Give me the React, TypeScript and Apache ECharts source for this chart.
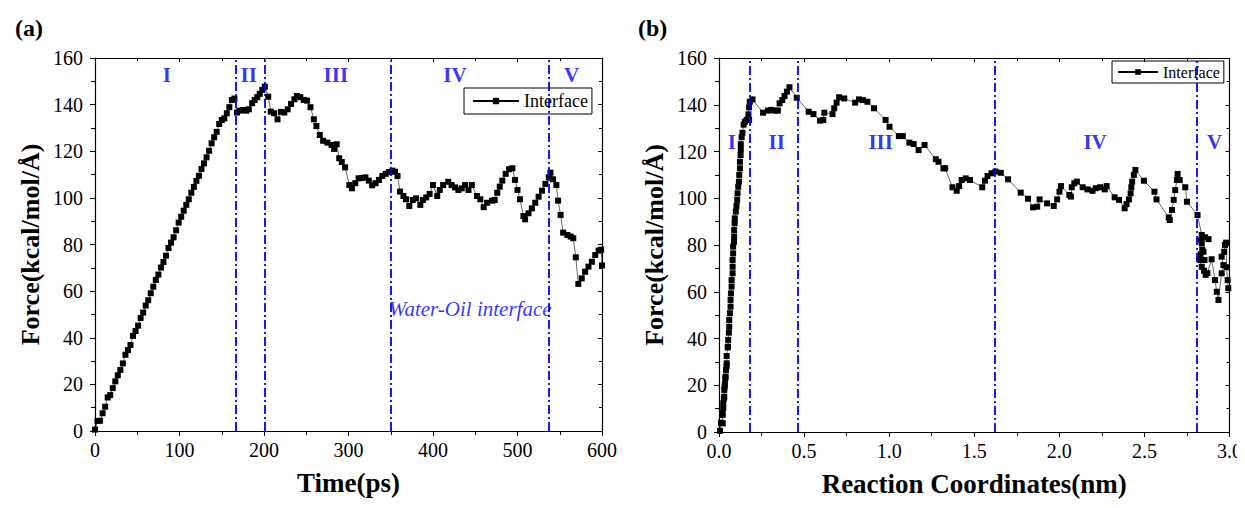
import React, { useEffect, useRef } from "react";
import * as echarts from "echarts";

// Panel (a): Force vs Time
const timeA = [0, 3, 6, 9, 12, 15, 18, 21, 24, 27, 30, 33, 36, 39, 42, 45, 48, 51, 54, 57, 60, 63, 66, 69, 72, 75, 78, 81, 84, 87, 90, 93, 96, 99, 102, 105, 108, 111, 114, 117, 120, 123, 126, 129, 132, 135, 138, 141, 144, 147, 150, 153, 156, 159, 162, 165,
  168, 171, 175, 179, 182, 186, 189, 192, 195, 198, 201,
  205, 208, 212, 216, 220, 224, 228, 232, 236, 239, 243, 247, 251, 255, 259, 262, 266, 270, 275, 280, 283, 286, 289, 292, 296, 301, 304, 308, 312, 316, 320, 324, 328, 332, 336, 340, 344, 348, 352,
  355, 358, 361, 365, 368, 372, 376, 380, 385, 388, 392, 396, 400, 405, 408, 412, 418, 422, 426, 430, 434, 438, 442, 446, 452, 456, 460, 464, 470, 473, 476, 479, 482, 486, 490, 494, 497, 500, 503, 507, 509, 513, 517, 521, 525, 529, 533, 537, 539,
  542, 546, 548, 551, 554, 559, 563, 566, 569, 572, 576, 580, 584, 588, 592, 596, 599, 600];
const forceA = [0.6, 4.3, 4.4, 7.6, 10.4, 14.4, 15.4, 18.4, 21.3, 23.9, 26.2, 29, 32.7, 34.7, 36.9, 40.8, 42.9, 45.2, 48.5, 50.8, 53.8, 56.1, 59.1, 61.9, 64.8, 67.1, 70.1, 72.5, 75.2, 78.5, 80.8, 83.1, 86.1, 89.4, 91.9, 94.5, 97, 99.4, 102.2, 104.7, 107.3, 109.5, 112.4, 114.8, 117.4, 120.2, 123.4, 126, 128.3, 131.7, 133.4, 134.1, 136.3, 138.9, 142, 142.6,
  136.6, 137.4, 137.7, 137.4, 138, 140.6, 142, 143.2, 144.6, 146.3, 147.7,
  143.4, 137, 136.3, 133.7, 136.9, 136.6, 138, 140.3, 142.3, 143.7, 143.2, 142, 141.7, 138.9, 133.7, 130.8, 127, 124.5, 123.7, 122.7, 121, 123, 117, 115.4, 113.1, 105.5, 104.1, 106.3, 108.4, 108.5, 108.8, 107.4, 105.4, 106.3, 107.7, 109.4, 110.3, 111.1, 111.7,
  111.2, 109.4, 102.7, 100.8, 99.4, 96.5, 99.1, 99.8, 97, 99.1, 100.2, 101.7, 105.5, 100.8, 103.4, 105.5, 106.9, 105.5, 104.5, 103.4, 104.1, 105.5, 103.4, 105.5, 100.8, 99.4, 96, 97.9, 98.8, 99.1, 102.2, 104.8, 107.4, 110.3, 112.3, 112.7, 107.7, 103.4, 99.4, 92.2, 90.8, 93.4, 95.5, 97.9, 100.5, 103.1, 106, 108.8, 110.8,
  108, 105.5, 98.8, 92.7, 85.1, 84.1, 83.4, 82.7, 74.5, 63.1, 65.5, 68.3, 70.5, 72.6, 75.5, 77.4, 77.8, 71];

// Panel (b): Force vs Reaction Coordinates
const coordB = [0.006, 0.012, 0.022, 0.019, 0.022, 0.025, 0.025, 0.029, 0.031, 0.031, 0.033, 0.035, 0.037, 0.039, 0.041, 0.045, 0.045, 0.045, 0.051, 0.053, 0.054, 0.058, 0.06, 0.06, 0.064, 0.068, 0.068, 0.07, 0.074, 0.074, 0.08, 0.08, 0.08, 0.083, 0.083, 0.088, 0.089, 0.089, 0.092, 0.093, 0.099, 0.103, 0.107, 0.109, 0.113, 0.117, 0.119, 0.123, 0.123, 0.127, 0.128, 0.128, 0.133, 0.138, 0.145, 0.152, 0.162, 0.177, 0.173, 0.177, 0.181, 0.197,
  0.259, 0.288, 0.307, 0.327, 0.346, 0.356, 0.372, 0.385, 0.399, 0.414,
  0.457, 0.527, 0.555, 0.594, 0.613, 0.619, 0.667, 0.677, 0.691, 0.706, 0.736, 0.8, 0.823, 0.846, 0.872, 0.911, 0.979, 1.002, 1.057, 1.08, 1.119, 1.144, 1.173, 1.208, 1.274, 1.29, 1.319, 1.329, 1.372, 1.397, 1.411, 1.426, 1.45, 1.475, 1.547, 1.563, 1.578, 1.601, 1.625, 1.656, 1.699,
  1.773, 1.816, 1.845, 1.87, 1.884, 1.928, 1.967, 1.987, 2.001, 2.01, 2.059, 2.068, 2.073, 2.088, 2.103, 2.137, 2.166, 2.195, 2.214, 2.24, 2.267, 2.278, 2.325, 2.351, 2.384, 2.395, 2.409, 2.419, 2.423, 2.428, 2.438, 2.447, 2.497, 2.559, 2.571, 2.643, 2.649, 2.662, 2.672, 2.681, 2.691, 2.695, 2.707, 2.74, 2.75, 2.812,
  2.837, 2.857, 2.877, 2.83, 2.837, 2.84, 2.847, 2.83, 2.853, 2.827, 2.837, 2.85, 2.86, 2.87, 2.895, 2.915, 2.925, 2.935, 2.954, 2.964, 2.954, 2.969, 2.973, 2.98, 2.983, 2.989, 2.993];
const forceB = [0.5, 4, 3.7, 8.3, 7.3, 10.1, 12.3, 14.4, 15.1, 18, 19.4, 20.5, 23, 23.7, 26.5, 28.2, 29.4, 32.5, 36.2, 36.5, 39.4, 42.5, 45, 47.9, 50.8, 53.6, 56.5, 59.3, 62.2, 65, 67.9, 70.7, 73.6, 76.4, 79.3, 81.4, 83.6, 86.4, 89.3, 91.4, 94.3, 96.7, 99.3, 102.1, 104.9, 107.1, 110, 112.8, 115.6, 118.5, 120.9, 123.1, 126.1, 128, 131.5, 132.7, 133.5, 133.5, 135.9, 138.9, 141.3, 142.3,
  136.6, 137.5, 137.8, 137.5, 137.5, 140.6, 142, 143.7, 145.6, 147.5,
  143, 137, 136, 133.2, 133.5, 136.6, 136, 138.5, 140.9, 143.2, 142.7, 140.9, 142.3, 142, 141.3, 138.5, 133.5, 130.6, 126.6, 126.6, 123.8, 123.2, 120.6, 122.8, 116.7, 115.6, 112.8, 112.8, 104.7, 103.2, 105.2, 107.8, 108.5, 107.8, 104.7, 107.5, 109.5, 110.7, 111.4, 110.9, 108.1,
  102.4, 99.8, 96.1, 96.4, 99.5, 97.8, 96.7, 99.5, 102.8, 105.2, 101.4, 100.7, 104.7, 106.4, 107.1, 104.7, 103.8, 103.2, 104.3, 104.7, 103.8, 105.2, 100.4, 99.3, 95.7, 97.5, 99.5, 102.1, 104.7, 107.1, 110, 112.1, 107.5, 102.8, 99.5, 91.8, 90.7, 95, 99.3, 103.5, 107.8, 110.4, 107.8, 104.7, 98.5, 92.8,
  84.3, 83.3, 82.5, 82, 80.7, 78, 77.1, 76, 73.6, 73.6, 70.7, 69, 67.2, 68, 73.9, 65, 60, 56.5, 67.9, 71.4, 75, 77.1, 80, 81, 70.5, 65, 61.5];

const regionNames = ["I", "II", "III", "IV", "V"];
const regionPosA = [85, 182, 285, 426, 564];
const regionPosB = [0.076, 0.339, 0.95, 2.21, 2.913];
const boundariesA = [167, 201, 350, 537];
const boundariesB = [0.181, 0.461, 1.623, 2.807];

const SERIF = "'Liberation Serif', 'Times New Roman', serif";
const BLUE = "#0000ff";

function axisCommon() {
  return {
    axisLine: { show: true, onZero: false, lineStyle: { color: "#000", width: 1.2 } },
    splitLine: { show: false },
  };
}

export default function App() {
  const ref = useRef<HTMLDivElement>(null);
  useEffect(() => {
    if (!ref.current) return;
    const chart = echarts.init(ref.current, undefined, { renderer: "svg" });
    const dataA = timeA.map((t, i) => [t, forceA[i]]);
    const dataB = coordB.map((c, i) => [c, forceB[i]]);
    const yLabelA = regionPosA.map((x, i) => [x, 152.7, regionNames[i]]);
    const yLabelB = regionPosB.map((x, i) => [x, 124, regionNames[i]]);

    const tickLabel = { color: "#000", fontSize: 20, fontFamily: SERIF };
    const nameStyle = { color: "#000", fontSize: 26, fontWeight: "bold", fontFamily: SERIF };

    const mkBottom = (gridIndex: number, max: number, interval: number, name: string, fmt?: (v: number) => string) => ({
      type: "value", gridIndex, min: 0, max, interval, position: "bottom",
      name, nameLocation: "middle", nameGap: 38, nameTextStyle: { ...nameStyle, fontSize: 27 },
      ...axisCommon(),
      axisTick: { show: true, inside: false, length: 5, lineStyle: { color: "#000", width: 1 } },
      minorTick: { show: true, splitNumber: 2, length: 4, lineStyle: { color: "#000", width: 1 } },
      axisLabel: { ...tickLabel, margin: 9, formatter: fmt },
    });
    const mkTop = (gridIndex: number, max: number, interval: number) => ({
      type: "value", gridIndex, min: 0, max, interval, position: "top",
      ...axisCommon(),
      axisTick: { show: true, inside: true, length: 4, lineStyle: { color: "#000", width: 1 } },
      minorTick: { show: true, splitNumber: 2, length: 3, lineStyle: { color: "#000", width: 1 } },
      axisLabel: { show: false },
    });
    const mkLeft = (gridIndex: number) => ({
      type: "value", gridIndex, min: 0, max: 160, interval: 20, position: "left",
      name: "Force(kcal/mol/Å)", nameLocation: "middle", nameGap: 52, nameRotate: 90, nameTextStyle: nameStyle,
      ...axisCommon(),
      axisTick: { show: true, inside: false, length: 5, lineStyle: { color: "#000", width: 1 } },
      minorTick: { show: true, splitNumber: 2, length: 4, lineStyle: { color: "#000", width: 1 } },
      axisLabel: { ...tickLabel, margin: 12 },
    });
    const mkRight = (gridIndex: number) => ({
      type: "value", gridIndex, min: 0, max: 160, interval: 20, position: "right",
      ...axisCommon(),
      axisTick: { show: true, inside: true, length: 4, lineStyle: { color: "#000", width: 1 } },
      minorTick: { show: true, splitNumber: 2, length: 3, lineStyle: { color: "#000", width: 1 } },
      axisLabel: { show: false },
    });

    const mline = (vals: number[]) => ({
      silent: true,
      symbol: "none",
      label: { show: false },
      lineStyle: { color: BLUE, width: 1.8, type: [9, 3, 2, 3] },
      data: vals.map((v) => ({ xAxis: v })),
    });

    const seriesStyle = {
      type: "line",
      name: "Interface",
      symbol: "rect",
      symbolSize: 6,
      itemStyle: { color: "#000" },
      lineStyle: { color: "#000", width: 0.6 },
    };

    const regionLabel = {
      show: true,
      position: "inside",
      formatter: (p: any) => p.data[2],
      color: BLUE,
      fontSize: 21,
      fontWeight: "bold",
      fontFamily: SERIF,
    };

    chart.setOption({
      animation: false,
      backgroundColor: "#fff",
      grid: [
        { left: 95, top: 58, width: 507, height: 373 },
        { left: 719, top: 58, width: 514, height: 374 },
      ],
      xAxis: [
        mkBottom(0, 600, 100, "Time(ps)"),
        mkBottom(1, 3, 0.5, "Reaction Coordinates(nm)", (v: number) => v.toFixed(1)),
        mkTop(0, 600, 100),
        mkTop(1, 3, 0.5),
      ],
      yAxis: [mkLeft(0), mkLeft(1), mkRight(0), mkRight(1)],
      legend: [
        {
          data: [{ name: "Interface" }],
          left: 464, top: 88,
          itemWidth: 46, itemHeight: 8, itemGap: 4,
          padding: [4, 4, 4, 8],
          borderColor: "#000", borderWidth: 1, borderRadius: 0,
          textStyle: { color: "#000", fontSize: 18, fontFamily: SERIF },
          selectedMode: false,
        },
        {
          data: [{ name: "Interface" }],
          left: 1112, top: 61,
          itemWidth: 40, itemHeight: 7, itemGap: 4,
          padding: [3, 4, 3, 5],
          borderColor: "#000", borderWidth: 1, borderRadius: 0,
          textStyle: { color: "#000", fontSize: 16, fontFamily: SERIF },
          selectedMode: false,
        },
      ],
      series: [
        { ...seriesStyle, xAxisIndex: 0, yAxisIndex: 0, data: dataA, markLine: mline(boundariesA) },
        { ...seriesStyle, xAxisIndex: 1, yAxisIndex: 1, data: dataB, markLine: mline(boundariesB) },
        {
          type: "scatter", name: "regionsA", xAxisIndex: 0, yAxisIndex: 0, symbolSize: 1,
          itemStyle: { color: "rgba(0,0,0,0)" }, label: regionLabel, data: yLabelA, silent: true,
        },
        {
          type: "scatter", name: "regionsB", xAxisIndex: 1, yAxisIndex: 1, symbolSize: 1,
          itemStyle: { color: "rgba(0,0,0,0)" }, label: regionLabel, data: yLabelB, silent: true,
        },
        {
          type: "scatter", name: "interfaceNote", xAxisIndex: 0, yAxisIndex: 0, symbolSize: 1,
          itemStyle: { color: "rgba(0,0,0,0)" }, silent: true,
          label: {
            show: true, position: "inside", formatter: "Water-Oil interface",
            color: BLUE, fontSize: 21, fontStyle: "italic", fontFamily: SERIF,
          },
          data: [[444, 52.3]],
        },
      ],
      graphic: [
        { type: "text", left: 15, top: 16, style: { text: "(a)", fill: "#000", font: `bold 24px ${SERIF}` } },
        { type: "text", left: 638, top: 16, style: { text: "(b)", fill: "#000", font: `bold 24px ${SERIF}` } },
      ],
    });
    return () => chart.dispose();
  }, []);
  return <div ref={ref} style={{ width: 1245, height: 508, margin: -8 }} />;
}
